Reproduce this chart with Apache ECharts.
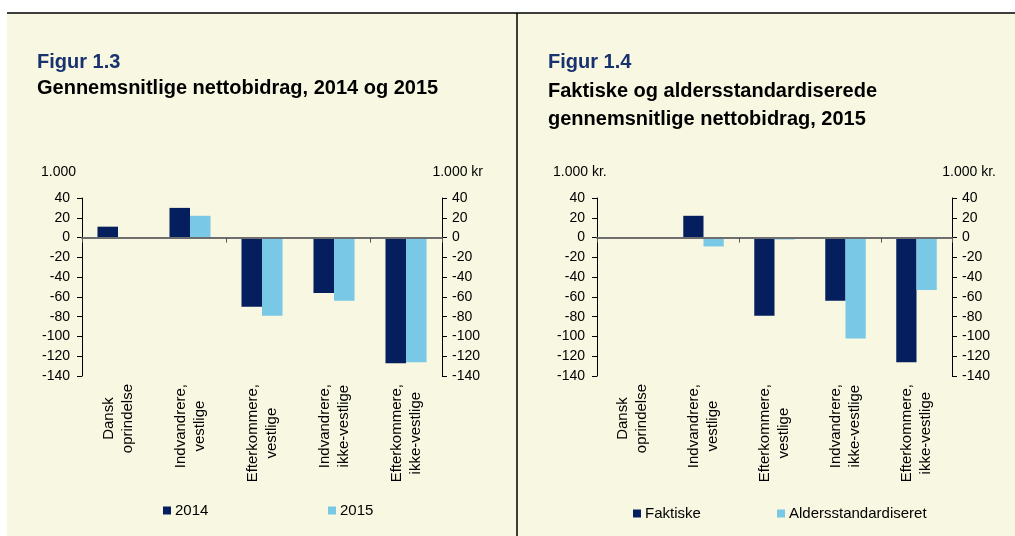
<!DOCTYPE html>
<html>
<head>
<meta charset="utf-8">
<script src="https://cdn.jsdelivr.net/npm/echarts@6/dist/echarts.min.js"></script>
<style>
  html, body { margin: 0; padding: 0; background: #fff; }
  #chart { width: 1015px; height: 536px; }
</style>
</head>
<body>
<div id="chart"></div>
<script>
// kategorier (fælles for begge figurer)
const categories = [
  'Dansk\noprindelse',
  'Indvandrere,\nvestlige',
  'Efterkommere,\nvestlige',
  'Indvandrere,\nikke-vestlige',
  'Efterkommere,\nikke-vestlige'
];
// Figur 1.3, 1.000 kr
const values2014 = [11, 30, -70, -56, -127];
const values2015 = [-0.5, 22, -79, -64, -126];
// Figur 1.4, 1.000 kr.
const faktiske = [-0.5, 22, -79, -64, -126];
const aldersstandardiseret = [0, -9, -2, -102, -53];
// y-akse
const yMin = -140;
const yMax = 40;
const yStep = 20;

const BG = '#f8f7e1';
const DARK = '#041e5e';
const LIGHT = '#78c8e6';
const FONT = "'Liberation Sans', Arial, sans-serif";

const chart = echarts.init(document.getElementById('chart'));

// en value-akse (venstre eller højre) til et grid
function valueAxis(gridIndex, position) {
  return {
    type: 'value',
    gridIndex: gridIndex,
    position: position,
    min: yMin,
    max: yMax,
    interval: yStep,
    splitLine: { show: false },
    axisLine: { show: true, lineStyle: { color: '#000', width: 1 } },
    axisTick: { show: true, length: 5, lineStyle: { color: '#000' } },
    axisLabel: { color: '#000', fontSize: 14, fontFamily: FONT, margin: position === 'left' ? 12 : 10 }
  };
}

// kategori-akse med tekster i bunden (linjerne centreret)
function labelAxis(gridIndex) {
  return {
    type: 'category',
    gridIndex: gridIndex,
    position: 'bottom',
    data: categories,
    axisLine: { show: false, onZero: false },
    axisTick: { show: false },
    axisLabel: {
      interval: 0,
      rotate: 90,
      margin: 8,
      fontSize: 15,
      lineHeight: 19,
      color: '#000',
      fontFamily: FONT,
      formatter: (v) => v.split('\n').map((s) => '{c|' + s + '}').join('\n'),
      rich: {
        c: { align: 'center', fontSize: 15, lineHeight: 19, color: '#000', fontFamily: FONT }
      }
    }
  };
}

// nul-linjen med små streger (nedad) mellem kategorierne
function zeroAxis(gridIndex) {
  return {
    type: 'category',
    gridIndex: gridIndex,
    position: 'top',
    data: categories,
    z: 5,
    axisLine: { show: true, onZero: true, lineStyle: { color: '#6e6e6e', width: 2 } },
    axisTick: { show: true, inside: true, length: 5, lineStyle: { color: '#555' } },
    axisLabel: { show: false }
  };
}

function barSeries(name, data, color, xi, yi) {
  return {
    name: name,
    type: 'bar',
    xAxisIndex: xi,
    yAxisIndex: yi,
    data: data,
    barGap: '0%',
    barCategoryGap: '43%',
    itemStyle: { color: color },
    emphasis: { disabled: true }
  };
}

function legendItem(name, left, top) {
  return {
    data: [name],
    left: left,
    top: top,
    padding: 0,
    itemWidth: 8,
    itemHeight: 8,
    icon: 'rect',
    selectedMode: false,
    textStyle: { fontSize: 15, color: '#000', fontFamily: FONT, padding: [0, 0, 0, -1] }
  };
}

const option = {
  backgroundColor: '#fff',
  animation: false,
  graphic: [
    { type: 'rect', shape: { x: 7, y: 13, width: 1008, height: 523 }, style: { fill: BG }, z: -10 },
    { type: 'line', shape: { x1: 7, y1: 13, x2: 1015, y2: 13 }, style: { stroke: '#000', lineWidth: 1.5 } },
    { type: 'line', shape: { x1: 517, y1: 13, x2: 517, y2: 536 }, style: { stroke: '#000', lineWidth: 1.5 } },
    // titler
    { type: 'text', left: 37, top: 52, style: { text: 'Figur 1.3', fontSize: 20, fontWeight: 'bold', fill: '#17326f', fontFamily: FONT } },
    { type: 'text', left: 37, top: 78, style: { text: 'Gennemsnitlige nettobidrag, 2014 og 2015', fontSize: 20, fontWeight: 'bold', fill: '#000', fontFamily: FONT } },
    { type: 'text', left: 548, top: 52, style: { text: 'Figur 1.4', fontSize: 20, fontWeight: 'bold', fill: '#17326f', fontFamily: FONT } },
    { type: 'text', left: 548, top: 77, style: { text: 'Faktiske og aldersstandardiserede\ngennemsnitlige nettobidrag, 2015', fontSize: 20, lineHeight: 28, fontWeight: 'bold', fill: '#000', fontFamily: FONT } },
    // enheder
    { type: 'text', left: 41, top: 165, style: { text: '1.000', fontSize: 14, fill: '#000', fontFamily: FONT } },
    { type: 'text', right: 1015 - 483, top: 165, style: { text: '1.000 kr', fontSize: 14, fill: '#000', fontFamily: FONT } },
    { type: 'text', left: 553, top: 165, style: { text: '1.000 kr.', fontSize: 14, fill: '#000', fontFamily: FONT } },
    { type: 'text', right: 1015 - 996, top: 165, style: { text: '1.000 kr.', fontSize: 14, fill: '#000', fontFamily: FONT } }
  ],
  grid: [
    { left: 82, top: 198, width: 360, height: 178, containLabel: false },
    { left: 597, top: 198, width: 355, height: 178, containLabel: false }
  ],
  xAxis: [labelAxis(0), zeroAxis(0), labelAxis(1), zeroAxis(1)],
  yAxis: [valueAxis(0, 'left'), valueAxis(0, 'right'), valueAxis(1, 'left'), valueAxis(1, 'right')],
  legend: [
    legendItem('2014', 163, 503),
    legendItem('2015', 328, 503),
    legendItem('Faktiske', 633, 506),
    legendItem('Aldersstandardiseret', 777, 506)
  ],
  series: [
    barSeries('2014', values2014, DARK, 0, 0),
    barSeries('2015', values2015, LIGHT, 0, 0),
    barSeries('Faktiske', faktiske, DARK, 2, 2),
    barSeries('Aldersstandardiseret', aldersstandardiseret, LIGHT, 2, 2)
  ]
};

chart.setOption(option);
</script>
</body>
</html>
